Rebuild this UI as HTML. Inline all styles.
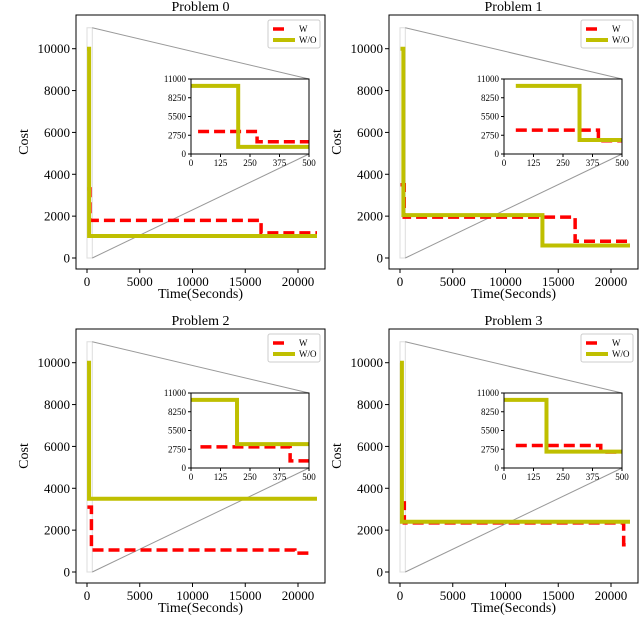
<!DOCTYPE html>
<html><head><meta charset="utf-8"><style>
html,body{margin:0;padding:0;background:#fff;}
svg{display:block;font-family:"Liberation Serif","DejaVu Serif",serif;}
</style></head><body>
<svg id="chart" width="640" height="617" xmlns="http://www.w3.org/2000/svg"></svg>
<script>
const problemTitles = ["Problem 0","Problem 1","Problem 2","Problem 3"];
const wX = [[30,280,16500,21800],[50,400,16600,21800],[40,420,19700,21200],[50,410,21200,21500]];
const wY = [[3300,1800,1200,1200],[3500,1950,800,800],[3100,1050,900,900],[3300,2350,1300,1300]];
const woX = [[0,200,21800],[50,320,13500,21800],[0,195,21800],[0,180,21800]];
const woY = [[10000,1050,1050],[10000,2050,600,600],[10000,3500,3500],[10000,2400,2400]];
const xTicks = [0,5000,10000,15000,20000];
const yTicks = [0,2000,4000,6000,8000,10000];
const insetXTicks = [0,125,250,375,500];
const insetYTicks = [0,2750,5500,8250,11000];

const NS="http://www.w3.org/2000/svg";
const svg=document.getElementById('chart');
function mk(tag,attrs,parent){const e=document.createElementNS(NS,tag);for(const k in attrs)e.setAttribute(k,attrs[k]);(parent||svg).appendChild(e);return e;}
const panels=[{l:76,t:15,b:269},{l:389,t:15,b:269},{l:76,t:329,b:583},{l:389,t:329,b:583}];
const W=249, X0OFF=11, PXPER=10.55/1000, YPER=20.93/1000;
const WO_COLOR="#bfbf00", W_COLOR="#ff0000";

function stepPath(xs,ys,sx,sy){
  let d="M"+sx(xs[0])+","+sy(ys[0]);
  for(let i=1;i<xs.length;i++){d+=" L"+sx(xs[i])+","+sy(ys[i-1])+" L"+sx(xs[i])+","+sy(ys[i]);}
  return d;
}
function clipSeries(xs,ys,xmax){
  const ox=[],oy=[];
  for(let i=0;i<xs.length;i++){if(xs[i]<xmax){ox.push(xs[i]);oy.push(ys[i]);}}
  ox.push(xmax);oy.push(oy[oy.length-1]);return [ox,oy];
}

panels.forEach((p,i)=>{
  const g=mk('g',{},svg);
  
  
  const y0=p.b-11;
  const sx=v=>p.l+X0OFF+v*PXPER;
  const sy=v=>y0-v*YPER;
  const tt=mk('text',{x:p.l+W/2,y:p.t-4,'text-anchor':'middle','font-size':14,fill:'#000'},g);
  tt.textContent=problemTitles[i];
  
  const cid='clip'+i;
  const cp=mk('clipPath',{id:cid},g);mk('rect',{x:p.l,y:p.t,width:W,height:p.b-p.t},cp);
  const inner=mk('g',{'clip-path':'url(#'+cid+')'},g);
  const il=p.l+115, ir=p.l+233, it=p.t+64, ib=p.t+139;
  const zr=mk('rect',{x:sx(0),y:sy(11000),width:sx(500)-sx(0),height:sy(0)-sy(11000),fill:'none',stroke:'#ddd','stroke-width':1},inner);
  
  const c1=mk('line',{x1:sx(500),y1:sy(11000),x2:ir,y2:it,stroke:'#999','stroke-width':1},inner);
  
  const c2=mk('line',{x1:sx(500),y1:sy(0),x2:ir,y2:ib,stroke:'#999','stroke-width':1},inner);
  
  const l1=mk('path',{d:stepPath(wX[i],wY[i],sx,sy),fill:'none',stroke:W_COLOR,'stroke-width':3.5,'stroke-dasharray':'11,5'},inner);
  
  const l2=mk('path',{d:stepPath(woX[i],woY[i],sx,sy),fill:'none',stroke:WO_COLOR,'stroke-width':4},inner);
  
  const fr=mk('rect',{x:p.l,y:p.t,width:W,height:p.b-p.t,fill:'none',stroke:'#000','stroke-width':1},g);
  
  xTicks.forEach(v=>{
    mk('line',{x1:sx(v),y1:p.b,x2:sx(v),y2:p.b+4,stroke:'#000'},g);
    const t=mk('text',{x:sx(v),y:p.b+17,'text-anchor':'middle','font-size':13},g);t.textContent=v;
    
  });
  yTicks.forEach(v=>{
    mk('line',{x1:p.l,y1:sy(v),x2:p.l-4,y2:sy(v),stroke:'#000'},g);
    const t=mk('text',{x:p.l-6,y:sy(v)+4.5,'text-anchor':'end','font-size':13},g);t.textContent=v;
    
  });
  const xl=mk('text',{x:p.l+W/2,y:p.b+29,'text-anchor':'middle','font-size':14},g);xl.textContent='Time(Seconds)';
  
  const yl=mk('text',{x:0,y:0,'text-anchor':'middle','font-size':14,transform:'translate('+(p.l-48)+','+((p.t+p.b)/2)+') rotate(-90)'},g);yl.textContent='Cost';
  
  const lg=mk('g',{},g);
  const lx=p.l+W-57, ly=p.t+5;
  mk('rect',{x:lx,y:ly,width:52,height:28,rx:2,fill:'#fff',stroke:'#ccc','stroke-width':1},lg);
  mk('line',{x1:lx+5,y1:ly+9,x2:lx+20,y2:ly+9,stroke:W_COLOR,'stroke-width':3.5,'stroke-dasharray':'11,5'},lg);
  mk('line',{x1:lx+5,y1:ly+20,x2:lx+27,y2:ly+20,stroke:WO_COLOR,'stroke-width':4},lg);
  const e1=mk('text',{x:lx+31,y:ly+12,'font-size':9},lg);e1.textContent='W';
  
  const e2=mk('text',{x:lx+31,y:ly+23,'font-size':9},lg);e2.textContent='W/O';
  
  const ig=mk('g',{},g);
  mk('rect',{x:il,y:it,width:ir-il,height:ib-it,fill:'#fff'},ig);
  const isx=v=>il+v/500*(ir-il), isy=v=>ib-v/11000*(ib-it);
  const icid='iclip'+i;
  const icp=mk('clipPath',{id:icid},ig);mk('rect',{x:il,y:it,width:ir-il,height:ib-it},icp);
  const ii=mk('g',{'clip-path':'url(#'+icid+')'},ig);
  let [a,b]=clipSeries(wX[i],wY[i],500);
  const s1=mk('path',{d:stepPath(a,b,isx,isy),fill:'none',stroke:W_COLOR,'stroke-width':3.5,'stroke-dasharray':'11,5'},ii);
  
  [a,b]=clipSeries(woX[i],woY[i],500);
  const s2=mk('path',{d:stepPath(a,b,isx,isy),fill:'none',stroke:WO_COLOR,'stroke-width':4},ii);
  
  mk('rect',{x:il,y:it,width:ir-il,height:ib-it,fill:'none',stroke:'#000','stroke-width':1},ig);
  insetXTicks.forEach(v=>{
    mk('line',{x1:isx(v),y1:ib,x2:isx(v),y2:ib+3,stroke:'#000'},ig);
    const t=mk('text',{x:isx(v),y:ib+12,'text-anchor':'middle','font-size':9},ig);t.textContent=v;
    
  });
  insetYTicks.forEach(v=>{
    mk('line',{x1:il,y1:isy(v),x2:il-3,y2:isy(v),stroke:'#000'},ig);
    const t=mk('text',{x:il-5,y:isy(v)+3,'text-anchor':'end','font-size':9},ig);t.textContent=v;
    
  });
});
</script>
</body></html>
